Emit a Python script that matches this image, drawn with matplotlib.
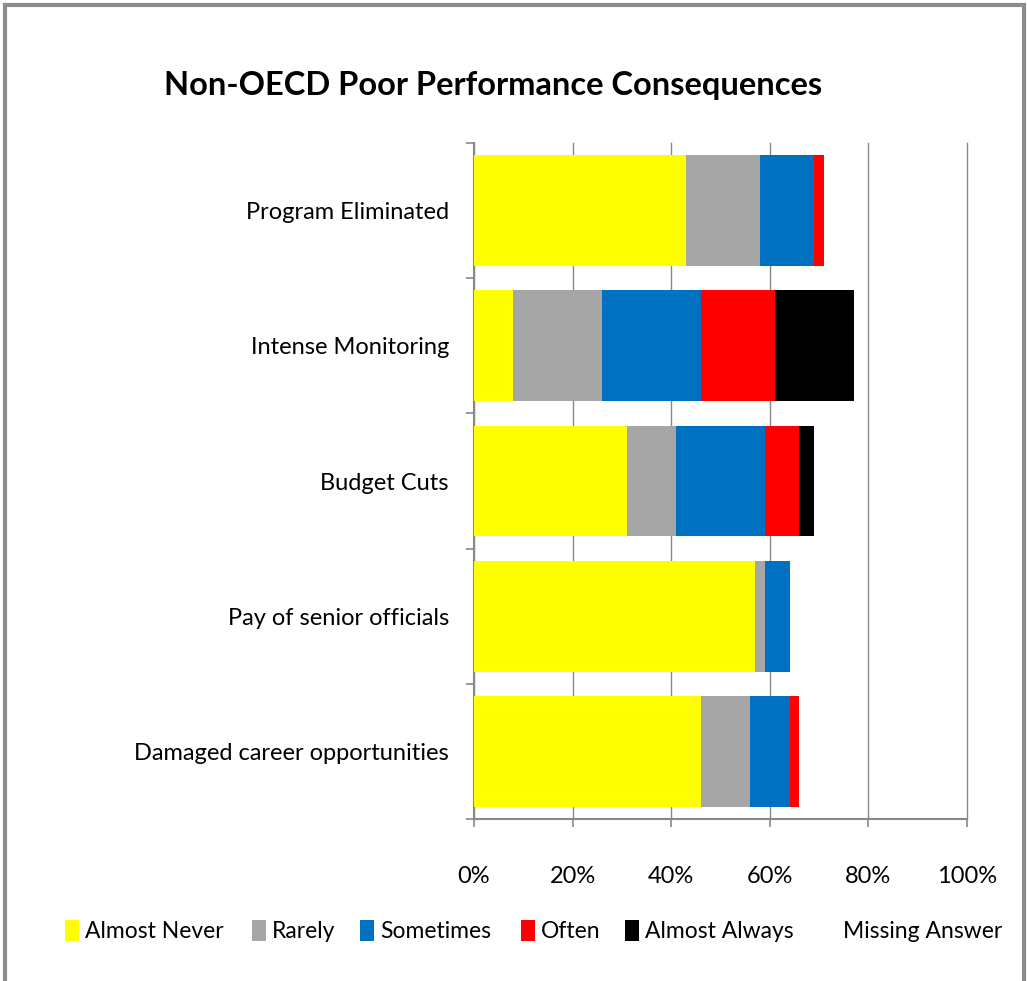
import matplotlib
matplotlib.use("Agg")
import matplotlib.pyplot as plt
from matplotlib.patches import Rectangle
import numpy as np

categories = ["Program Eliminated", "Intense Monitoring", "Budget Cuts",
              "Pay of senior officials", "Damaged career opportunities"]
series_names = ["Almost Never", "Rarely", "Sometimes", "Often", "Almost Always", "Missing Answer"]
almost_never = [43, 8, 31, 57, 46]
rarely = [15, 18, 10, 2, 10]
sometimes = [11, 20, 18, 5, 8]
often = [2, 15, 7, 0, 2]
almost_always = [0, 16, 3, 0, 0]
missing_answer = [29, 23, 31, 36, 34]
x_ticks = [0, 20, 40, 60, 80, 100]
x_tick_labels = ["0%", "20%", "40%", "60%", "80%", "100%"]

colors = ["#FFFF00", "#A6A6A6", "#0070C0", "#FF0000", "#000000", "none"]
series = [almost_never, rarely, sometimes, often, almost_always, missing_answer]

FONT = ["Lato", "DejaVu Sans"]
plt.rcParams['font.family'] = FONT

W, H = 1027, 981
fig = plt.figure(figsize=(W / 100, H / 100), dpi=100)
ax = fig.add_axes([474 / W, 1 - 819 / H, (967 - 474) / W, (819 - 143) / H])

y = np.arange(len(categories))
left = np.zeros(len(categories))
for name, vals, c in zip(series_names, series, colors):
    vals = np.array(vals, dtype=float)
    ax.barh(y, vals, left=left, height=0.82, color=c, label=name, zorder=3,
            edgecolor="none")
    left += vals

ax.set_xlim(0, 100)
ax.set_ylim(len(categories) - 0.5, -0.5)
ax.set_xticks(x_ticks)
ax.set_xticklabels(x_tick_labels, fontsize=17)
ax.set_yticks(y)
ax.set_yticklabels(categories, fontsize=17)
ax.tick_params(axis='y', length=0, pad=18)
ax.set_yticks(np.arange(-0.5, len(categories)), minor=True)
ax.tick_params(axis='y', which='minor', length=6, color="#888888", width=1.2, direction='out')
ax.tick_params(axis='x', length=6, color="#888888", width=1.2, pad=28)
ax.grid(axis='x', color="#888888", linewidth=1.0, zorder=0)
for gl in ax.get_xgridlines():
    gl.set_clip_on(False)
for s in ["top", "right"]:
    ax.spines[s].set_visible(False)
for s in ["left", "bottom"]:
    ax.spines[s].set_color("#888888")
    ax.spines[s].set_linewidth(1.5)

fig.text(493 / W, 1 - 86 / H, "Non-OECD Poor Performance Consequences", ha="center", va="center",
         fontsize=23.5, fontweight="bold")

# legend (manual placement of entries)
legend_x = [65, 252, 360, 521, 625, 843]
ly = 1 - 931 / H
for name, c, lx in zip(series_names, colors, legend_x):
    if c != "none":
        fig.patches.append(Rectangle((lx / W, ly - 10 / H), 14 / W, 21 / H, transform=fig.transFigure,
                                     facecolor=c, edgecolor="none"))
        tx = lx + 20
    else:
        tx = lx
    fig.text(tx / W, ly, name, ha="left", va="center", fontsize=16.5)

# outer frame
fig.patches.append(Rectangle((5 / W, -0.05), (1024 - 5) / W, 1 - 5 / H + 0.05, transform=fig.transFigure,
                             fill=False, edgecolor="#8c8c8c", linewidth=3))

fig.savefig("out.png", dpi=100, facecolor="white")
